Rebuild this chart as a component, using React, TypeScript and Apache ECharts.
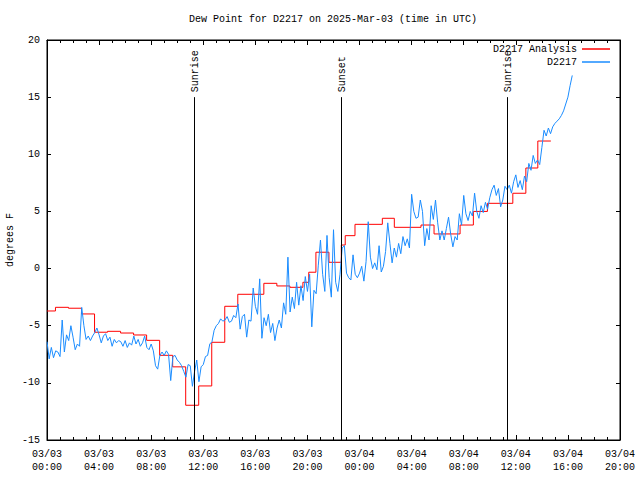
import React, { useEffect, useRef } from "react";
import * as echarts from "echarts";

const TITLE = "Dew Point for D2217 on 2025-Mar-03 (time in UTC)";
const Y_NAME = "degrees F";
const FONT = "Liberation Mono";

// x axis: hours since 2025-03-03 00:00 UTC
const xTickLabels = [
  "03/03\n00:00", "03/03\n04:00", "03/03\n08:00", "03/03\n12:00",
  "03/03\n16:00", "03/03\n20:00", "03/04\n00:00", "03/04\n04:00",
  "03/04\n08:00", "03/04\n12:00", "03/04\n16:00", "03/04\n20:00",
];

// Analysis (step) series
const redTimes = [
  0, 0.65, 1.65, 2.65, 3.65, 4.65, 5.65, 6.65, 7.65, 8.65, 9.65, 10.65, 11.65,
  12.65, 13.65, 14.65, 16.65, 17.65, 18.65, 19.65, 20.1, 20.65, 21.65, 22.6,
  22.9, 23.65, 25.75, 26.67, 28.72, 29.72, 31.72, 32.74, 33.82, 35.77, 36.77,
  37.69, 38.69,
];
const redValues = [
  -3.71, -3.39, -3.47, -3.97, -5.57, -5.49, -5.64, -5.81, -6.28, -7.59, -8.6,
  -11.96, -10.27, -6.45, -3.3, -2.25, -1.29, -1.52, -1.64, -1.2, -0.32, 1.43,
  0.55, 2.06, 2.88, 3.87, 4.4, 3.61, 3.81, 3.03, 3.81, 5.0, 5.71, 6.59, 8.8,
  11.16, 11.16,
];

// Observed series, one value every 10 minutes from 03/03 00:00
const blueStepMinutes = 10;
const blueValues = [
  -6.4, -7.9, -6.9, -7.8, -7.2, -7.3, -7.7, -4.5, -7.3, -5.8,
  -6.3, -5.0, -6.0, -7.1, -6.6, -6.8, -3.4, -5.0, -6.2, -5.9,
  -6.3, -5.9, -5.6, -5.2, -5.8, -6.5, -5.9, -5.7, -6.3, -6.0,
  -6.8, -6.2, -6.5, -6.3, -6.4, -6.8, -6.3, -6.9, -6.5, -6.7,
  -5.9, -6.6, -6.2, -6.8, -6.5, -5.9, -6.9, -7.1, -6.6, -7.2,
  -8.5, -8.8, -7.6, -7.3, -7.6, -7.2, -7.5, -9.8, -7.7, -7.6,
  -8.0, -8.2, -8.5, -9.0, -9.5, -8.4, -8.5, -10.3, -9.0, -8.0,
  -9.9, -8.6, -8.4, -7.7, -7.6, -6.6, -6.4, -5.4, -5.0, -4.8,
  -4.4, -4.6, -4.5, -4.2, -4.7, -4.6, -4.1, -4.3, -3.1, -5.3,
  -4.2, -4.0, -6.0, -4.5, -4.6, -1.7, -3.3, -4.0, -0.9, -6.1,
  -4.3, -5.0, -4.0, -5.6, -4.8, -6.3, -5.2, -4.5, -5.2, -3.0,
  -4.0, 1.0, -3.8, -2.5, -3.5, -1.2, -3.2, -1.5, -2.8, -0.7,
  -2.0, -0.5, -5.1, -1.9, -2.2, 0.3, 2.5, -0.5, -2.0, 2.9,
  -0.8, -2.5, 3.4, -1.2, -2.0, -0.5, 1.8, 2.0, -0.4, -0.8,
  -1.0, 1.2, -0.5, -0.8, -0.4, 0.2, -1.1, 0.6, 4.1, 1.0,
  0.0, 0.5, -0.1, 2.0, -0.3, 0.2, 1.5, 4.0, 2.2, 0.5,
  1.8, 1.0, 2.2, 1.3, 2.8, 2.0, 2.6, 1.8, 6.5, 5.0,
  4.4, 4.5, 6.0, 5.0, 2.0, 3.5, 2.5, 5.5, 4.3, 6.0,
  4.0, 2.5, 3.3, 2.5, 3.5, 4.5, 3.0, 1.9, 2.8, 2.5,
  4.8, 3.8, 6.4, 4.8, 4.2, 5.0, 4.6, 6.6, 5.0, 4.4,
  5.5, 4.9, 5.8, 5.2, 6.2, 6.9, 7.3, 6.4, 7.0, 5.4,
  6.0, 7.2, 6.9, 7.3, 6.6, 7.6, 8.2, 7.1, 7.7, 6.9,
  8.1, 7.6, 9.2, 8.6, 9.9, 9.2, 9.5, 9.1, 10.6, 12.1,
  11.6, 12.3, 11.8, 12.4, 12.7, 12.9, 13.1, 13.4, 13.8, 14.4,
  15.0, 16.0, 16.9,
];

// Sun events (hours since 03/03 00:00 UTC)
const sunLabels = ["Sunrise", "Sunset", "Sunrise"];
const sunHours = [11.31, 22.54, 35.35];
const sunLineTop = 15;

const Y_MIN = -15;
const Y_MAX = 20;
const X_MIN = 0;
const X_MAX = 44;

const RED = "#ff0000";
const BLUE = "#1a8cff";

export default function App() {
  const ref = useRef<HTMLDivElement>(null);

  useEffect(() => {
    if (!ref.current) return;
    const chart = echarts.init(ref.current, undefined, { renderer: "svg" });

    const redData = redTimes.map((t, i) => [t, redValues[i]]);
    const blueData = blueValues.map((v, i) => [(i * blueStepMinutes) / 60, v]);
    const sunData = sunHours.map((h) => [h, sunLineTop]);

    const txt = { fontFamily: FONT, fontSize: 10, color: "#000" };

    const xBase = {
      type: "value",
      min: X_MIN,
      max: X_MAX,
      interval: 4,
      axisLine: { show: true, onZero: false, lineStyle: { color: "#000", width: 1 } },
      axisTick: { show: true, inside: true, length: 5, lineStyle: { color: "#000" } },
      minorTick: { show: true, splitNumber: 4, length: 3, lineStyle: { color: "#000" } },
      splitLine: { show: false },
    };
    const yBase = {
      type: "value",
      min: Y_MIN,
      max: Y_MAX,
      interval: 5,
      axisLine: { show: true, onZero: false, lineStyle: { color: "#000", width: 1 } },
      axisTick: { show: true, inside: true, length: 4, lineStyle: { color: "#000" } },
      splitLine: { show: false },
    };

    chart.setOption({
      animation: false,
      backgroundColor: "#fff",
      title: {
        text: TITLE,
        left: 333,
        top: 13,
        textAlign: "center",
        padding: 0,
        textStyle: { ...txt, fontWeight: "normal", lineHeight: 12 },
      },
      legend: {
        data: [
          { name: "D2217 Analysis", icon: "rect" },
          { name: "D2217", icon: "rect" },
        ],
        orient: "vertical",
        right: 30,
        top: 43,
        align: "right",
        itemWidth: 28,
        itemHeight: 1.5,
        itemGap: 1,
        padding: 0,
        textStyle: { ...txt, lineHeight: 12 },
      },
      grid: {
        left: 47,
        right: 20,
        top: 40,
        bottom: 40,
        containLabel: false,
        outerBoundsMode: "none",
        show: true,
        borderColor: "#000",
        borderWidth: 1,
      },
      xAxis: [
        {
          ...xBase,
          position: "bottom",
          axisLabel: {
            ...txt,
            margin: 8,
            lineHeight: 13,
            showMinLabel: true,
            showMaxLabel: true,
            hideOverlap: false,
            formatter: (v: number) => xTickLabels[Math.round(v / 4)] ?? "",
          },
        },
        { ...xBase, position: "top", axisLabel: { show: false } },
      ],
      yAxis: [
        {
          ...yBase,
          position: "left",
          axisLabel: { ...txt, margin: 7 },
          name: Y_NAME,
          nameLocation: "middle",
          nameRotate: 90,
          nameGap: 32,
          nameMoveOverlap: false,
          nameTextStyle: { ...txt },
        },
        { ...yBase, position: "right", axisLabel: { show: false } },
      ],
      series: [
        {
          name: "D2217 Analysis",
          type: "line",
          step: "end",
          data: redData,
          symbol: "none",
          showSymbol: false,
          color: RED,
          itemStyle: { color: RED },
          lineStyle: { color: RED, width: 1 },
          z: 2,
        },
        {
          name: "D2217",
          type: "line",
          data: blueData,
          symbol: "none",
          showSymbol: false,
          color: BLUE,
          itemStyle: { color: BLUE },
          lineStyle: { color: BLUE, width: 1 },
          z: 3,
        },
        {
          name: "sun",
          type: "custom",
          data: sunData,
          silent: true,
          z: 4,
          renderItem: (params: any, api: any) => {
            const h = api.value(0);
            const top = api.coord([h, api.value(1)]);
            const bot = api.coord([h, Y_MIN]);
            const x = Math.round(top[0]) + 0.5;
            return {
              type: "group",
              children: [
                {
                  type: "line",
                  shape: { x1: x, y1: top[1], x2: x, y2: bot[1] },
                  style: { stroke: "#000", lineWidth: 1 },
                },
                {
                  type: "text",
                  x: x + 1,
                  y: top[1] - 5,
                  rotation: Math.PI / 2,
                  style: {
                    text: sunLabels[params.dataIndex],
                    fontFamily: FONT,
                    fontSize: 10,
                    fill: "#000",
                    align: "left",
                    verticalAlign: "middle",
                  },
                },
              ],
            };
          },
        },
      ],
    });

    return () => chart.dispose();
  }, []);

  return (
    <div
      ref={ref}
      style={{ position: "fixed", left: 0, top: 0, width: 640, height: 480 }}
    />
  );
}
